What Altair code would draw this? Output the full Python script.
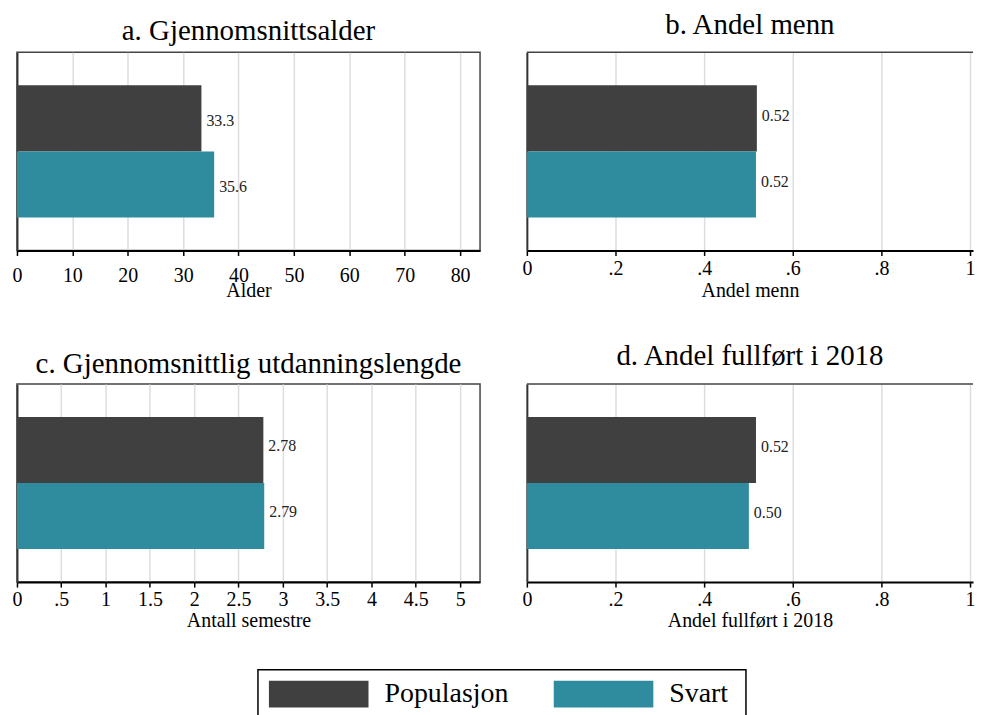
import altair as alt
import pandas as pd

FONT = "Liberation Serif"

groups = ["Populasjon", "Svart"]
colors = ["#404040", "#2e8c9e"]

alder = [33.3, 35.6]
andel_menn = [0.519, 0.517]
utdanning = [2.78, 2.79]
fullfort = [0.517, 0.501]

ticks_alder = [0, 10, 20, 30, 40, 50, 60, 70, 80]
ticks_andel = [0, 0.2, 0.4, 0.6, 0.8, 1]
ticks_sem = [0, 0.5, 1, 1.5, 2, 2.5, 3, 3.5, 4, 4.5, 5]

LABEL_EXPR = ("datum.value > 0 && datum.value < 1 ? substring(format(datum.value, '~g'), 1) "
              ": format(datum.value, '~g')")

color_scale = alt.Scale(domain=groups, range=colors)
PANEL_H = 199
RIGHT_W = 448
FRAME = "#444444"


def panel(values, title, xtitle, width, xmax, ticks, fmt, title_offset, label_pad, title_y, label_dy,
          open_right=False):
    df = pd.DataFrame({"Gruppe": groups, "Verdi": values})
    base = alt.Chart(df)
    y = alt.Y(
        "Gruppe:N",
        sort=groups,
        scale=alt.Scale(paddingInner=0, paddingOuter=0.5),
        axis=alt.Axis(labels=False, ticks=False, title=None, grid=False,
                      domainColor="#333333", domainWidth=2),
    )
    x = alt.X(
        "Verdi:Q",
        scale=alt.Scale(domain=[0, xmax], nice=False, zero=True),
        axis=alt.Axis(
            values=ticks, labelExpr=LABEL_EXPR, title=xtitle,
            labelFlush=False, labelOverlap=False,
            labelPadding=label_pad, titleY=title_y, titleBaseline="alphabetic",
        ),
    )
    bars = base.mark_bar().encode(
        x=x,
        y=y,
        color=alt.Color("Gruppe:N", sort=groups, scale=color_scale, legend=None),
    )
    text = base.mark_text(
        align="left", baseline="middle", dx=5, dy=label_dy,
        fontSize=16, font=FONT, color="#222222",
    ).encode(x="Verdi:Q", y=y, text=alt.Text("Verdi:Q", format=fmt))
    layers = [bars, text]
    props = dict(
        width=width,
        height=PANEL_H,
        title=alt.TitleParams(title, offset=title_offset, baseline="alphabetic", dy=28,
                              fontSize=29, font=FONT, fontWeight="normal",
                              anchor="middle", color="black"),
    )
    if open_right:
        # frame continues past the page edge in the original: top border only, no right border
        top_rule = alt.Chart(pd.DataFrame({"k": [0]})).mark_rule(
            color=FRAME, strokeWidth=1.5
        ).encode(x=alt.value(0), x2=alt.value(width), y=alt.value(0))
        layers.append(top_rule)
        props["view"] = alt.ViewBackground(stroke="transparent")
    return alt.layer(*layers), props


a, pa = panel(alder, "a. Gjennomsnittsalder", "Alder", 465, 83.6, ticks_alder, ".1f", 11, 10, 46, 3)
b, pb = panel(andel_menn, "b. Andel menn", "Andel menn", RIGHT_W, RIGHT_W / 445, ticks_andel, ".2f",
              17, 3, 46, -2, open_right=True)
c, pc = panel(utdanning, "c. Gjennomsnittlig utdanningslengde", "Antall semestre", 465, 5.225, ticks_sem,
              ".2f", 10, 2, 45, -4)
d, pd_ = panel(fullfort, "d. Andel fullført i 2018", "Andel fullført i 2018", RIGHT_W, RIGHT_W / 445,
               ticks_andel, ".2f", 17, 2, 45, -3, open_right=True)

# Legend (boxed, below the panels), attached to panel c's layer
LEG_TOP = PANEL_H + 88
leg_df = pd.DataFrame({"Gruppe": groups})
leg_x = alt.X("Gruppe:N", sort=groups,
              scale=alt.Scale(type="point", range=[253, 539], padding=0), axis=None)
swatch = alt.Chart(leg_df).mark_point(
    shape="M0,-0.27H2V0.27H0Z", size=10000, filled=True, opacity=1, strokeWidth=0
).encode(
    x=leg_x,
    y=alt.value(LEG_TOP + 24.5),
    color=alt.Color("Gruppe:N", sort=groups, scale=color_scale, legend=None),
)
leg_label = alt.Chart(leg_df).mark_text(
    align="left", baseline="middle", dx=116, font=FONT, fontSize=28, color="black"
).encode(x=leg_x, y=alt.value(LEG_TOP + 24.5), text="Gruppe:N")
box = alt.Chart(pd.DataFrame({"k": [0]})).mark_rect(
    filled=False, stroke="black", strokeWidth=1.5
).encode(
    x=alt.value(242), x2=alt.value(732),
    y=alt.value(LEG_TOP), y2=alt.value(LEG_TOP + 58),
)
legend = alt.layer(swatch, leg_label)

c_full = alt.layer(c, legend, box).resolve_scale(x="independent").properties(**pc)

grid = alt.concat(
    a.properties(**pa), b.properties(**pb), c_full, d.properties(**pd_),
    columns=2, spacing={"row": 134, "column": 47}, bounds="flush",
)

chart = grid.properties(
    padding={"left": 3, "top": 0, "right": 0, "bottom": 0},
    background="white",
).configure_view(
    stroke=FRAME, strokeWidth=1.5
).configure_axisX(
    domainColor="black", domainWidth=2, tickColor="black", tickWidth=1.5, tickSize=5,
    gridColor="#dddddd", gridWidth=1.5,
    labelFont=FONT, labelFontSize=20, labelColor="black",
    titleFont=FONT, titleFontSize=20, titleFontWeight="normal", titleColor="black",
)

chart.save("out.html", embed_options={"renderer": "svg", "actions": False})
